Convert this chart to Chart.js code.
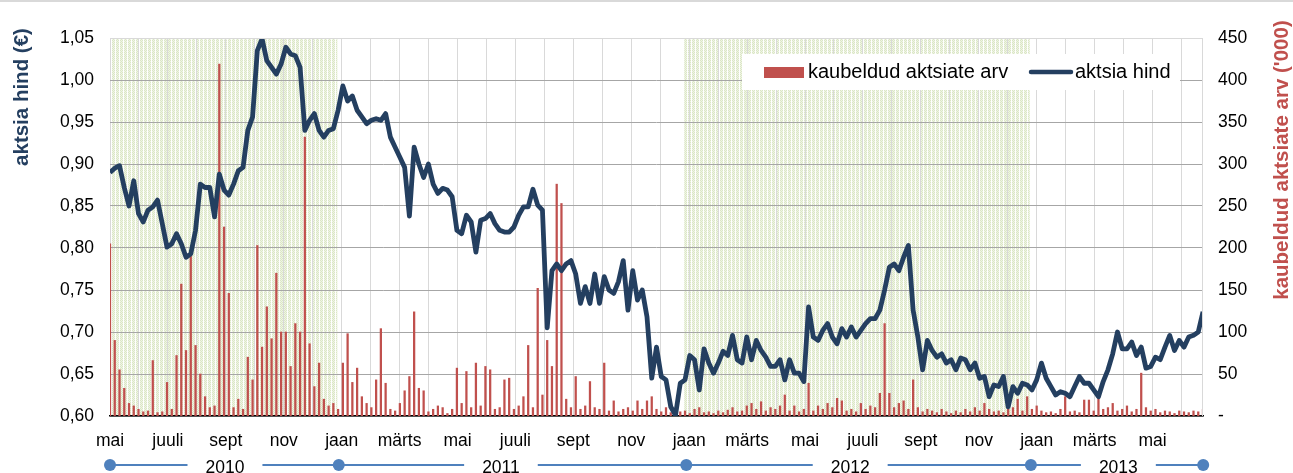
<!DOCTYPE html>
<html>
<head>
<meta charset="utf-8">
<script src="https://cdn.jsdelivr.net/npm/chart.js@4.4.1/dist/chart.umd.min.js"></script>
<style>
  body { margin: 0; background: #fff; }
  canvas { display: block; }
</style>
</head>
<body>
<canvas id="chart" width="1293" height="473"></canvas>
<script>
// x is in months from May 2010, one sample about every 5 days
const STEP = 0.1641;

// aktsia hind (EUR)
const priceValues = [
  0.890, 0.895, 0.898, 0.872, 0.850, 0.880, 0.841, 0.831, 0.845, 0.849,
  0.857, 0.829, 0.801, 0.805, 0.817, 0.805, 0.789, 0.793, 0.821, 0.876,
  0.872, 0.872, 0.837, 0.888, 0.869, 0.863, 0.876, 0.892, 0.896, 0.940,
  0.956, 1.035, 1.049, 1.023, 1.015, 1.007, 1.019, 1.039, 1.031, 1.029,
  1.015, 0.940, 0.952, 0.960, 0.940, 0.932, 0.940, 0.942, 0.964, 0.993,
  0.975, 0.981, 0.964, 0.956, 0.948, 0.952, 0.954,
  0.952, 0.960, 0.932, 0.920, 0.908, 0.896, 0.838, 0.920, 0.900, 0.884,
  0.900, 0.876, 0.865, 0.871, 0.869, 0.861, 0.821, 0.817, 0.839, 0.831,
  0.795, 0.833, 0.835, 0.841, 0.829, 0.821, 0.819, 0.819, 0.825, 0.839,
  0.849, 0.849, 0.870, 0.851, 0.845, 0.705, 0.773, 0.781, 0.773, 0.781,
  0.785, 0.769, 0.734, 0.754, 0.734, 0.769, 0.734, 0.766, 0.750, 0.746,
  0.760, 0.785, 0.726, 0.773, 0.738, 0.750, 0.718,
  0.645, 0.682, 0.647, 0.643, 0.611, 0.601, 0.639, 0.643, 0.672, 0.667,
  0.631, 0.680, 0.663, 0.651, 0.663, 0.677, 0.672, 0.696, 0.667, 0.663,
  0.694, 0.667, 0.690, 0.678, 0.670, 0.659, 0.659, 0.667, 0.643, 0.667,
  0.651, 0.651, 0.641, 0.730, 0.694, 0.690, 0.702, 0.710, 0.694, 0.686,
  0.704, 0.694, 0.706, 0.694, 0.702, 0.710, 0.716, 0.716, 0.726, 0.750,
  0.777, 0.781, 0.773, 0.789, 0.803, 0.726, 0.694, 0.655, 0.690,
  0.678, 0.670, 0.674, 0.663, 0.667, 0.655, 0.669, 0.667, 0.655, 0.663,
  0.645, 0.647, 0.623, 0.637, 0.635, 0.647, 0.611, 0.635, 0.627, 0.639,
  0.637, 0.631, 0.643, 0.663, 0.645, 0.635, 0.625, 0.629, 0.627, 0.623,
  0.635, 0.647, 0.639, 0.639, 0.631, 0.623, 0.641, 0.655, 0.674, 0.700,
  0.680, 0.680, 0.688, 0.672, 0.682, 0.657, 0.659, 0.670, 0.667, 0.682,
  0.696, 0.678, 0.690, 0.682, 0.694, 0.696, 0.700, 0.724
];

// kaubeldud aktsiate arv ('000)
const volumeValues = [
  205, 90, 55, 33, 15, 12, 8, 5, 6, 66,
  4, 5, 40, 8, 72, 157, 78, 190, 84, 50,
  23, 10, 12, 419, 225, 146, 10, 20, 8, 70,
  43, 203, 82, 130, 92, 170, 100, 100, 59, 110,
  100, 332, 86, 35, 63, 20, 12, 15, 8, 63,
  98, 40, 57, 23, 15, 10, 43,
  104, 39, 8, 6, 15, 30, 47, 124, 33, 30,
  5, 8, 12, 10, 3, 8, 57, 15, 53, 10,
  63, 12, 59, 55, 8, 10, 43, 45, 8, 12,
  23, 84, 10, 152, 25, 90, 59, 276, 253, 20,
  10, 47, 8, 12, 41, 10, 8, 63, 6, 18,
  5, 8, 10, 6, 18, 8, 18,
  23, 8, 5, 10, 4, 3, 5, 6, 3, 8,
  10, 4, 5, 3, 6, 4, 7, 10, 5, 6,
  12, 15, 8, 17, 6, 10, 8, 12, 25, 6,
  12, 5, 8, 39, 6, 12, 8, 15, 10, 21,
  18, 6, 8, 5, 15, 8, 12, 10, 27, 110,
  27, 10, 15, 18, 8, 43, 10, 5, 8,
  6, 4, 8, 5, 3, 6, 4, 8, 5, 10,
  6, 15, 8, 5, 6, 4, 8, 10, 20, 6,
  23, 8, 12, 6, 4, 5, 3, 8, 23, 5,
  6, 4, 19, 19, 6, 27, 8, 10, 15, 6,
  8, 12, 5, 8, 51, 10, 6, 8, 4, 6,
  5, 3, 6, 5, 4, 6, 5, 8
];

const xTickLabels = ['mai', 'juuli', 'sept', 'nov', 'jaan', 'märts',
  'mai', 'juuli', 'sept', 'nov', 'jaan', 'märts',
  'mai', 'juuli', 'sept', 'nov', 'jaan', 'märts', 'mai'];
const yearLabels = ['2010', '2011', '2012', '2013'];
const yearLabelAt = [3.97, 13.5, 25.56, 34.82];
const yearBounds = [0, 7.9, 19.9, 31.8, 37.75];
const shadedRanges = [[0, 7.85], [19.83, 31.76]];

const NAVY = '#243f60';
const RED = '#c0504d';
const FONT = "'Liberation Sans', Arial, sans-serif";

Chart.defaults.font.family = FONT;
Chart.defaults.font.size = 17.5;
Chart.defaults.color = '#000';

const makeStipple = (ctx) => {
  const c = document.createElement('canvas');
  c.width = 4; c.height = 2;
  const g = c.getContext('2d');
  g.fillStyle = '#fff'; g.fillRect(0, 0, 4, 2);
  const dark = '#dbe6c6', light = '#eff5e4';
  [[0, 0, dark], [0, 1, light], [1, 0, light], [1, 1, dark], [2, 0, dark], [2, 1, light]]
    .forEach(([x, y, col]) => { g.fillStyle = col; g.fillRect(x, y, 1, 1); });
  return ctx.createPattern(c, 'repeat');
};

const backdrop = {
  id: 'backdrop',
  beforeDraw(chart) {
    const { ctx, chartArea: a, scales: { x } } = chart;
    ctx.save();
    ctx.fillStyle = '#d9d9d9';
    ctx.fillRect(0, 0, chart.width, 2);
    ctx.fillStyle = makeStipple(ctx);
    shadedRanges.forEach(([s, e]) => {
      const x0 = x.getPixelForValue(s), x1 = x.getPixelForValue(e);
      ctx.fillRect(x0, a.top, x1 - x0, a.bottom - a.top);
    });
    ctx.restore();
  }
};

const overlay = {
  id: 'overlay',
  afterDraw(chart) {
    const { ctx, chartArea: a, scales: { x } } = chart;
    ctx.save();
    // light frame top/right
    ctx.strokeStyle = '#d9d9d9';
    ctx.lineWidth = 1;
    ctx.beginPath();
    ctx.moveTo(a.left, a.top + 0.5); ctx.lineTo(a.right - 0.5, a.top + 0.5); ctx.lineTo(a.right - 0.5, a.bottom);
    ctx.stroke();

    // axis titles
    ctx.font = 'bold 20.5px ' + FONT;
    ctx.textAlign = 'center';
    ctx.textBaseline = 'middle';
    ctx.fillStyle = NAVY;
    ctx.translate(22, 97); ctx.rotate(-Math.PI / 2);
    ctx.fillText('aktsia hind (€)', 0, 0);
    ctx.setTransform(1, 0, 0, 1, 0, 0);
    ctx.fillStyle = RED;
    ctx.translate(1282, 160); ctx.rotate(-Math.PI / 2);
    ctx.fillText("kaubeldud aktsiate arv ('000)", 0, 0);
    ctx.setTransform(1, 0, 0, 1, 0, 0);

    // legend
    const ds = chart.data.datasets;
    ctx.fillStyle = '#fff';
    ctx.fillRect(742, 54, 438, 36);
    ctx.font = '20px ' + FONT;
    ctx.textAlign = 'left';
    ctx.fillStyle = ds[0].backgroundColor;
    ctx.fillRect(764, 67, 40, 11);
    ctx.fillStyle = '#000';
    ctx.fillText(ds[0].label, 808, 72);
    ctx.strokeStyle = ds[1].borderColor;
    ctx.lineWidth = 4.5;
    ctx.lineCap = 'round';
    ctx.beginPath(); ctx.moveTo(1031, 72); ctx.lineTo(1071, 72); ctx.stroke();
    ctx.fillText(ds[1].label, 1075, 72);

    // year timeline
    const ty = 465;
    const px = yearBounds.map(v => x.getPixelForValue(v));
    ctx.font = '17.5px ' + FONT;
    ctx.textAlign = 'center';
    ctx.textBaseline = 'alphabetic';
    ctx.strokeStyle = '#4f81bd';
    ctx.lineWidth = 2;
    ctx.lineCap = 'butt';
    yearLabels.forEach((lab, i) => {
      const mid = x.getPixelForValue(yearLabelAt[i]);
      const half = ctx.measureText(lab).width / 2 + 18;
      ctx.beginPath();
      ctx.moveTo(px[i], ty); ctx.lineTo(mid - half, ty);
      ctx.moveTo(mid + half, ty); ctx.lineTo(px[i + 1], ty);
      ctx.stroke();
      ctx.fillStyle = '#000';
      ctx.fillText(lab, mid, 473);
    });
    ctx.fillStyle = '#4f81bd';
    px.forEach(p => { ctx.beginPath(); ctx.arc(p, ty, 6, 0, Math.PI * 2); ctx.fill(); });
    ctx.restore();
  }
};

const ctx = document.getElementById('chart').getContext('2d');
new Chart(ctx, {
  type: 'bar',
  data: {
    datasets: [{
      type: 'bar',
      label: 'kaubeldud aktsiate arv',
      data: volumeValues.map((v, i) => ({ x: i * STEP, y: v })),
      backgroundColor: RED,
      barThickness: 1.6,
      yAxisID: 'y1',
      order: 2
    }, {
      type: 'line',
      label: 'aktsia hind',
      data: priceValues.map((v, i) => ({ x: i * STEP, y: v })),
      borderColor: NAVY,
      borderWidth: 4.8,
      pointRadius: 0,
      tension: 0,
      borderJoinStyle: 'round',
      yAxisID: 'y',
      order: 1
    }]
  },
  options: {
    responsive: false,
    animation: false,
    devicePixelRatio: 1,
    layout: { padding: { top: 38, left: 0, right: 0, bottom: 0 } },
    plugins: { legend: { display: false }, tooltip: { enabled: false } },
    scales: {
      x: {
        type: 'linear',
        offset: false,
        min: 0,
        max: (priceValues.length - 1) * STEP,
        afterBuildTicks: (s) => { s.ticks = xTickLabels.concat(xTickLabels).slice(0, 38).map((_, m) => ({ value: m })); },
        afterFit: (s) => { s.height = 57; },
        ticks: {
          autoSkip: false, maxRotation: 0, padding: 15,
          callback: (v) => (v % 2 === 0 ? xTickLabels[v / 2] : '')
        },
        grid: { color: '#d9d9d9', drawTicks: false, offset: false },
        border: { color: '#000', width: 1.5 }
      },
      y: {
        position: 'left',
        min: 0.6, max: 1.05,
        afterFit: (s) => { s.width = 110; },
        ticks: { stepSize: 0.05, padding: 16, callback: (v) => v.toFixed(2).replace('.', ',') },
        grid: { drawTicks: false, color: (c) => (c.tick && c.tick.value > 1.04 ? '#d9d9d9' : '#a6a6a6') },
        border: { display: false }
      },
      y1: {
        position: 'right',
        min: 0, max: 450,
        afterFit: (s) => { s.width = 90; },
        ticks: { stepSize: 50, padding: 15, callback: (v) => (v === 0 ? '-' : v) },
        grid: { display: false, drawTicks: false },
        border: { display: false }
      }
    }
  },
  plugins: [backdrop, overlay]
});
</script>
</body>
</html>
